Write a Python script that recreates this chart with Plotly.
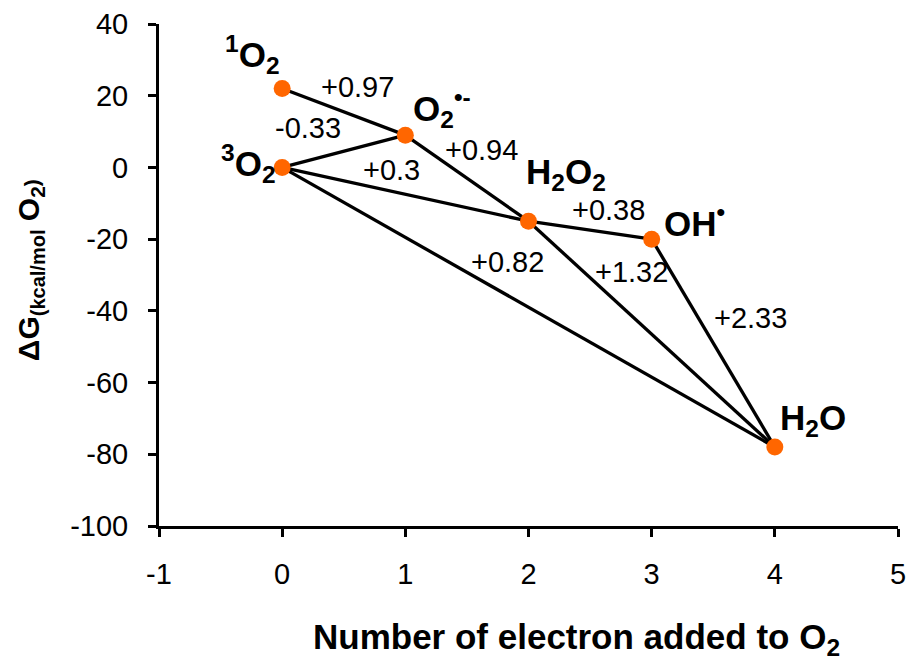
import plotly.graph_objects as go

# ---- data ----
species_labels = ["<sup>1</sup>O<sub>2</sub>", "O<sub>2</sub><sup>•-</sup>", "<sup>3</sup>O<sub>2</sub>",
                  "H<sub>2</sub>O<sub>2</sub>", "OH<sup>•</sup>", "H<sub>2</sub>O"]
electrons = [0, 1, 0, 2, 3, 4]
delta_g = [22, 9, 0, -15, -20, -78]

# edges between species (indices) with potentials
edge_from = [0, 2, 1, 2, 3, 2, 3, 4]
edge_to = [1, 1, 3, 3, 4, 5, 5, 5]
edge_text = ["+0.97", "-0.33", "+0.94", "+0.3", "+0.38", "+0.82", "+1.32", "+2.33"]

x_ticks = [-1, 0, 1, 2, 3, 4, 5]
y_ticks = [-100, -80, -60, -40, -20, 0, 20, 40]

# label placement (layout, not data)
edge_lx = [0.61, 0.21, 1.62, 0.89, 2.65, 1.83, 2.84, 3.80]
edge_ly = [22.4, 11.0, 4.9, -0.7, -11.9, -26.4, -29.2, -42.0]
sp_anchor = ["center", "left", "right", "left", "left", "left"]
sp_xshift = [-30, 6, -4, -5, 10, 3]
sp_yshift = [34, 27, 4, 47, 18, 27]

FONT = "Liberation Sans, Arial, sans-serif"

line_x, line_y = [], []
for a, b in zip(edge_from, edge_to):
    line_x += [electrons[a], electrons[b], None]
    line_y += [delta_g[a], delta_g[b], None]

fig = go.Figure()
fig.add_trace(go.Scatter(x=line_x, y=line_y, mode="lines",
                         line=dict(color="black", width=3.3), hoverinfo="skip",
                         showlegend=False))
fig.add_trace(go.Scatter(x=electrons, y=delta_g, mode="markers",
                         marker=dict(color="#FF6600", size=17), showlegend=False))

for i, t in enumerate(species_labels):
    fig.add_annotation(x=electrons[i], y=delta_g[i], text="<b>" + t + "</b>",
                       showarrow=False, xanchor=sp_anchor[i], yanchor="middle",
                       xshift=sp_xshift[i], yshift=sp_yshift[i],
                       font=dict(family=FONT, size=35, color="black"))

for x, y, t in zip(edge_lx, edge_ly, edge_text):
    fig.add_annotation(x=x, y=y, text=t, showarrow=False,
                       font=dict(family=FONT, size=29, color="black"))

# axis titles
fig.add_annotation(xref="paper", yref="paper", x=0.565, y=-0.225, xanchor="center",
                   yanchor="middle",
                   text="<b>Number of electron added to O<sub>2</sub></b>", showarrow=False,
                   font=dict(family=FONT, size=35, color="black"))
fig.add_annotation(xref="paper", yref="paper", x=-0.173, y=0.51, xanchor="center",
                   yanchor="middle", textangle=-90,
                   text="<b>ΔG<sub><span style='font-size:20px'>(kcal/mol</span></sub> O<sub>2</sub><span style='font-size:21px'>)</span></b>",
                   showarrow=False, font=dict(family=FONT, size=30, color="black"))

axis_common = dict(showline=True, linecolor="black", linewidth=3, ticks="outside",
                   ticklen=8, tickwidth=3, tickcolor="black", showgrid=False,
                   zeroline=False, automargin=False,
                   tickfont=dict(family=FONT, size=29, color="black"))
fig.update_xaxes(range=[-1, 5], tickmode="array", tickvals=x_ticks,
                 ticktext=[str(v) for v in x_ticks], ticklabelstandoff=12, **axis_common)
fig.update_yaxes(range=[-100, 40], tickmode="array", tickvals=y_ticks,
                 ticktext=[str(v) for v in y_ticks], ticklabelstandoff=14, **axis_common)

fig.update_layout(width=908, height=663, margin=dict(l=159, r=10, t=24, b=137),
                  plot_bgcolor="white", paper_bgcolor="white")

# remove the default page margin so the figure fills the window exactly
fig.write_html("out.html", config={"displayModeBar": False},
               post_script="document.body.style.margin='0';document.body.style.overflow='hidden';")
